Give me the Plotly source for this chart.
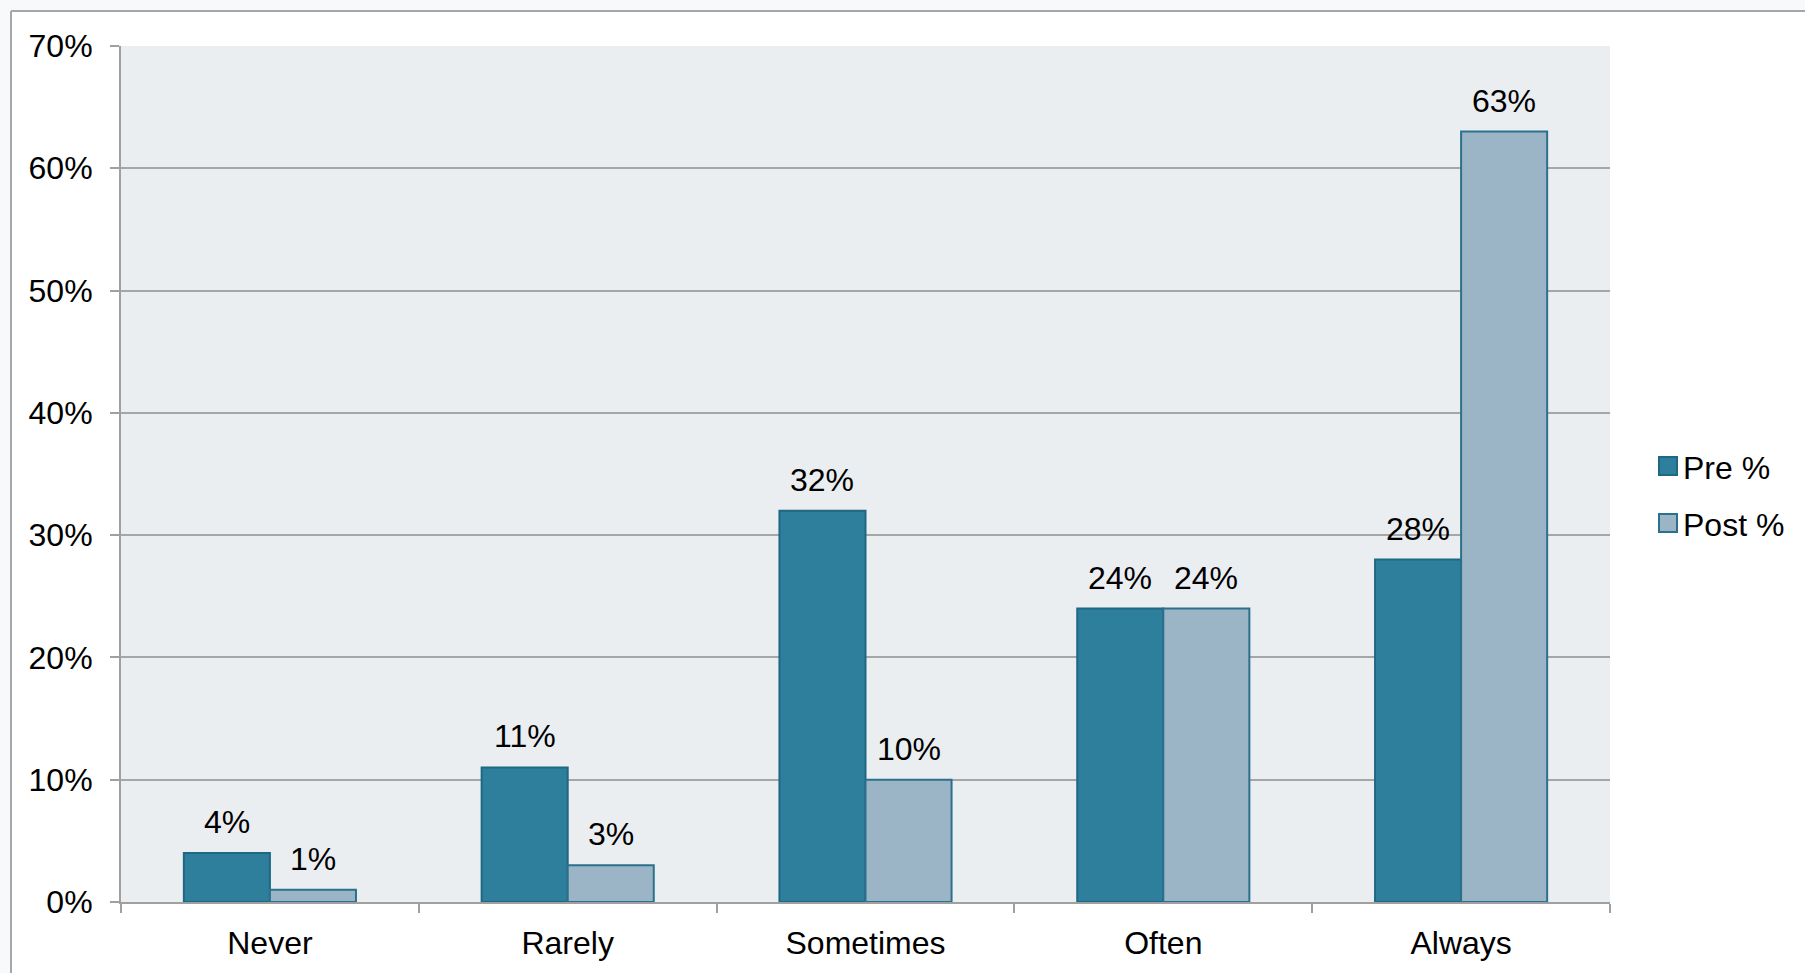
import plotly.graph_objects as go

categories = ["Never", "Rarely", "Sometimes", "Often", "Always"]
pre_values = [4, 11, 32, 24, 28]
post_values = [1, 3, 10, 24, 63]
series_names = ["Pre %", "Post %"]
y_ticks = [0, 10, 20, 30, 40, 50, 60, 70]

W, H = 1805, 973
L, R, T, B = 121, 195, 46, 71
PW, PH = W - L - R, H - T - B

PRE_FILL, PRE_LINE = "#2D7F9C", "#1F6884"
POST_FILL, POST_LINE = "#9BB5C7", "#2B708C"
FONT = "Liberation Sans, Arial, sans-serif"
FS = 32

BARGAP = 0.422
half = (1 - BARGAP) / 4  # center offset of each bar in group

fig = go.Figure()
fig.add_trace(go.Bar(x=categories, y=pre_values, name=series_names[0],
                     marker=dict(color=PRE_FILL, line=dict(color=PRE_LINE, width=2)),
                     showlegend=False, hoverinfo="skip"))
fig.add_trace(go.Bar(x=categories, y=post_values, name=series_names[1],
                     marker=dict(color=POST_FILL, line=dict(color=POST_LINE, width=2)),
                     showlegend=False, hoverinfo="skip"))

annotations = []
for i, (a, b) in enumerate(zip(pre_values, post_values)):
    for v, off in ((a, -half), (b, half)):
        annotations.append(dict(x=i + off, y=v, xref="x", yref="y", text=f"{v}%",
                                showarrow=False, yanchor="bottom", yshift=11,
                                font=dict(size=FS, color="#000000", family=FONT)))


def px_x(px):
    return (px - L) / PW


def px_y(py):
    return (H - B - py) / PH


OUT = "#F7F9FA"
BORDER = "#A6A6A6"
shapes = [
    # off-white strips outside the frame
    dict(type="rect", xref="paper", yref="paper", layer="below",
         x0=px_x(-5), x1=px_x(W + 5), y0=px_y(10), y1=px_y(-5),
         fillcolor=OUT, line=dict(width=0)),
    dict(type="rect", xref="paper", yref="paper", layer="below",
         x0=px_x(-5), x1=px_x(10), y0=px_y(H + 5), y1=px_y(-5),
         fillcolor=OUT, line=dict(width=0)),
    # frame border lines
    dict(type="line", xref="paper", yref="paper", layer="below",
         x0=px_x(11), x1=px_x(W + 5), y0=px_y(11), y1=px_y(11),
         line=dict(color=BORDER, width=2)),
    dict(type="line", xref="paper", yref="paper", layer="below",
         x0=px_x(11), x1=px_x(11), y0=px_y(11), y1=px_y(H + 5),
         line=dict(color=BORDER, width=2)),
]

legend_items = [(series_names[0], PRE_FILL, PRE_LINE, 466),
                (series_names[1], POST_FILL, POST_LINE, 523)]
for name, fill, line, cy in legend_items:
    shapes.append(dict(type="rect", xref="paper", yref="paper",
                       x0=px_x(1659), x1=px_x(1677), y0=px_y(cy + 9), y1=px_y(cy - 9),
                       fillcolor=fill, line=dict(color=line, width=2)))
    annotations.append(dict(x=px_x(1681), y=px_y(cy + 2), xref="paper", yref="paper",
                            text=name, showarrow=False, xanchor="left", yanchor="middle",
                            font=dict(size=FS, color="#000000", family=FONT)))

fig.update_layout(
    width=W, height=H,
    margin=dict(l=L, r=R, t=T, b=B, autoexpand=False),
    paper_bgcolor="#FFFFFF",
    plot_bgcolor="#EBEEF1",
    barmode="group", bargap=BARGAP, bargroupgap=0,
    font=dict(family=FONT, size=FS, color="#000000"),
    showlegend=False,
    shapes=shapes,
    annotations=annotations,
    xaxis=dict(type="category", showgrid=False, showline=True, linecolor="#A0A0A0",
               linewidth=2, ticks="outside", tickson="boundaries", ticklen=9,
               tickcolor="#A0A0A0", tickwidth=2, ticklabelstandoff=12,
               tickfont=dict(size=FS, family=FONT, color="#000000"), fixedrange=True),
    yaxis=dict(range=[0, 70], tickvals=y_ticks, ticktext=[f"{t}%" for t in y_ticks],
               showgrid=True, gridcolor="#A6A6A6", gridwidth=2, zeroline=False,
               showline=True, linecolor="#A0A0A0", linewidth=2, ticks="outside",
               ticklen=9, tickcolor="#A0A0A0", tickwidth=2, ticklabelstandoff=11,
               tickfont=dict(size=FS, family=FONT, color="#000000"), fixedrange=True),
)

fig.write_html("out.html", config={"displayModeBar": False})
